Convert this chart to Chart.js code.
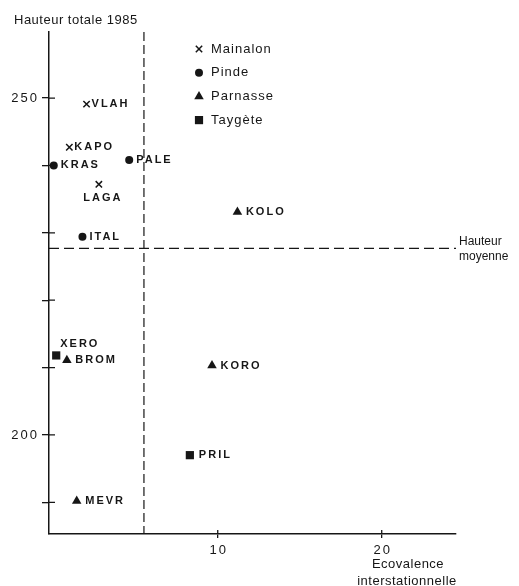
<!DOCTYPE html>
<html>
<head>
<meta charset="utf-8">
<script src="https://cdn.jsdelivr.net/npm/chart.js@4.4.1/dist/chart.umd.min.js"></script>
<style>
  body { margin: 0; background: #fff; }
  #wrap { width: 519px; height: 586px; position: relative; }
</style>
</head>
<body>
<div id="wrap"><canvas id="canvas-ecovalence"></canvas></div>
<script>
// stations by massif
const mainalonNames = ["VLAH", "KAPO", "LAGA"];
const mainalonX = [2.0, 0.95, 2.75];
const mainalonY = [249.1, 242.7, 237.2];

const pindeNames = ["KRAS", "PALE", "ITAL"];
const pindeX = [0.0, 4.6, 1.75];
const pindeY = [240.0, 240.8, 229.4];

const parnasseNames = ["KOLO", "BROM", "KORO", "MEVR"];
const parnasseX = [11.2, 0.8, 9.65, 1.4];
const parnasseY = [233.1, 211.1, 210.3, 190.2];

const taygeteNames = ["XERO", "PRIL"];
const taygeteX = [0.15, 8.3];
const taygeteY = [211.8, 197.0];

const meanEcovalence = 5.5;
const meanHauteur = 227.7;

const xTickValues = [10, 20];
const yTickValues = [190, 200, 210, 220, 230, 240, 250];
const yTickLabels = [200, 250];

const ink = "#161616";

function points(names, xs, ys) {
  return names.map((n, i) => ({ x: xs[i], y: ys[i], name: n }));
}

// label placement exceptions (default: right of the marker)
const labelBelow = ["LAGA"];
const labelAbove = ["XERO"];

const overlay = {
  id: "overlay",
  afterDraw(chart) {
    const ctx = chart.ctx;
    const a = chart.chartArea;
    const x = chart.scales.x;
    const y = chart.scales.y;
    ctx.save();
    ctx.strokeStyle = ink;
    ctx.fillStyle = ink;

    // inner half of the axis ticks
    ctx.lineWidth = 1.3;
    ctx.beginPath();
    yTickValues.forEach(v => {
      const py = y.getPixelForValue(v);
      ctx.moveTo(a.left, py);
      ctx.lineTo(a.left + 6, py);
    });
    xTickValues.forEach(v => {
      const px = x.getPixelForValue(v);
      ctx.moveTo(px, a.bottom);
      ctx.lineTo(px, a.bottom - 4);
    });
    ctx.stroke();

    // mean lines
    ctx.lineWidth = 1.2;
    ctx.setLineDash([9, 4]);
    const mx = x.getPixelForValue(meanEcovalence);
    ctx.beginPath();
    ctx.moveTo(mx, a.top);
    ctx.lineTo(mx, a.bottom);
    ctx.stroke();
    ctx.setLineDash([10, 5]);
    const my = y.getPixelForValue(meanHauteur);
    ctx.beginPath();
    ctx.moveTo(a.left, my);
    ctx.lineTo(a.right, my);
    ctx.stroke();
    ctx.setLineDash([]);

    // tick labels
    ctx.font = "13px 'Liberation Sans', Arial, sans-serif";
    ctx.letterSpacing = "2px";
    ctx.textBaseline = "middle";
    ctx.textAlign = "right";
    yTickLabels.forEach(v => {
      ctx.fillText(String(v), a.left - 10, y.getPixelForValue(v));
    });
    ctx.textAlign = "center";
    xTickValues.forEach(v => {
      ctx.fillText(String(v), x.getPixelForValue(v) + 1, a.bottom + 16);
    });

    // titles
    ctx.letterSpacing = "0.5px";
    ctx.textAlign = "left";
    ctx.fillText("Hauteur totale 1985", 14, 20);
    ctx.textAlign = "center";
    ctx.fillText("Ecovalence", 408, 564);
    ctx.fillText("interstationnelle", 407, 581);
    ctx.font = "12px 'Liberation Sans', Arial, sans-serif";
    ctx.letterSpacing = "0px";
    ctx.textAlign = "left";
    ctx.fillText("Hauteur", a.right + 3, my - 7);
    ctx.fillText("moyenne", a.right + 3, my + 8);

    // point labels
    ctx.font = "bold 11px 'Liberation Sans', Arial, sans-serif";
    ctx.letterSpacing = "2px";
    chart.data.datasets.forEach((ds, i) => {
      const meta = chart.getDatasetMeta(i);
      meta.data.forEach((el, j) => {
        const name = ds.data[j].name;
        if (labelBelow.includes(name)) {
          ctx.textAlign = "center";
          ctx.fillText(name, el.x + 4, el.y + 14);
        } else if (labelAbove.includes(name)) {
          ctx.textAlign = "left";
          ctx.fillText(name, el.x + 4, el.y - 11);
        } else {
          ctx.textAlign = "left";
          ctx.fillText(name, el.x + ds.labelGap, el.y);
        }
      });
    });

    // legend
    ctx.font = "13px 'Liberation Sans', Arial, sans-serif";
    ctx.letterSpacing = "1px";
    ctx.textAlign = "left";
    chart.data.datasets.forEach((ds, i) => {
      const ly = 49 + i * 23.7;
      ctx.lineWidth = ds.borderWidth;
      Chart.helpers.drawPoint(ctx, {
        pointStyle: ds.pointStyle,
        radius: ds.pointRadius,
        rotation: 0,
        borderWidth: ds.borderWidth
      }, 199, ly);
      ctx.fillText(ds.label, 211, ly);
    });
    ctx.restore();
  }
};

new Chart(document.getElementById("canvas-ecovalence"), {
  type: "scatter",
  plugins: [overlay],
  data: {
    datasets: [
      {
        label: "Mainalon",
        data: points(mainalonNames, mainalonX, mainalonY),
        pointStyle: "crossRot",
        pointRadius: 4.5,
        borderWidth: 1.5,
        borderColor: ink,
        backgroundColor: ink,
        labelGap: 5,
      },
      {
        label: "Pinde",
        data: points(pindeNames, pindeX, pindeY),
        pointStyle: "circle",
        pointRadius: 4,
        borderWidth: 0,
        borderColor: ink,
        backgroundColor: ink,
        labelGap: 7,
      },
      {
        label: "Parnasse",
        data: points(parnasseNames, parnasseX, parnasseY),
        pointStyle: "triangle",
        pointRadius: 5.5,
        borderWidth: 0,
        borderColor: ink,
        backgroundColor: ink,
        labelGap: 8.5,
      },
      {
        label: "Taygète",
        data: points(taygeteNames, taygeteX, taygeteY),
        pointStyle: "rect",
        pointRadius: 5.8,
        borderWidth: 0,
        borderColor: ink,
        backgroundColor: ink,
        labelGap: 9,
      },
    ],
  },
  options: {
    responsive: true,
    maintainAspectRatio: false,
    animation: false,
    events: [],
    layout: {
      padding: { left: 0, top: 32, right: 63, bottom: 0 },
    },
    plugins: {
      legend: { display: false },
      tooltip: { enabled: false },
    },
    scales: {
      x: {
        type: "linear",
        min: -0.29,
        max: 24.53,
        afterBuildTicks: scale => {
          scale.ticks = xTickValues.map(v => ({ value: v }));
        },
        afterFit: scale => {
          scale.height = 52;
        },
        ticks: { display: false },
        border: { display: true, color: ink, width: 1.5 },
        grid: { drawOnChartArea: false, drawTicks: true, tickLength: 4, color: ink, lineWidth: 1.3 },
      },
      y: {
        type: "linear",
        min: 185.3,
        max: 259.8,
        afterBuildTicks: scale => {
          scale.ticks = yTickValues.map(v => ({ value: v }));
        },
        afterFit: scale => {
          scale.width = 49;
        },
        ticks: { display: false },
        border: { display: true, color: ink, width: 1.5 },
        grid: { drawOnChartArea: false, drawTicks: true, tickLength: 7, color: ink, lineWidth: 1.3 },
      },
    },
  },
});
</script>
</body>
</html>
